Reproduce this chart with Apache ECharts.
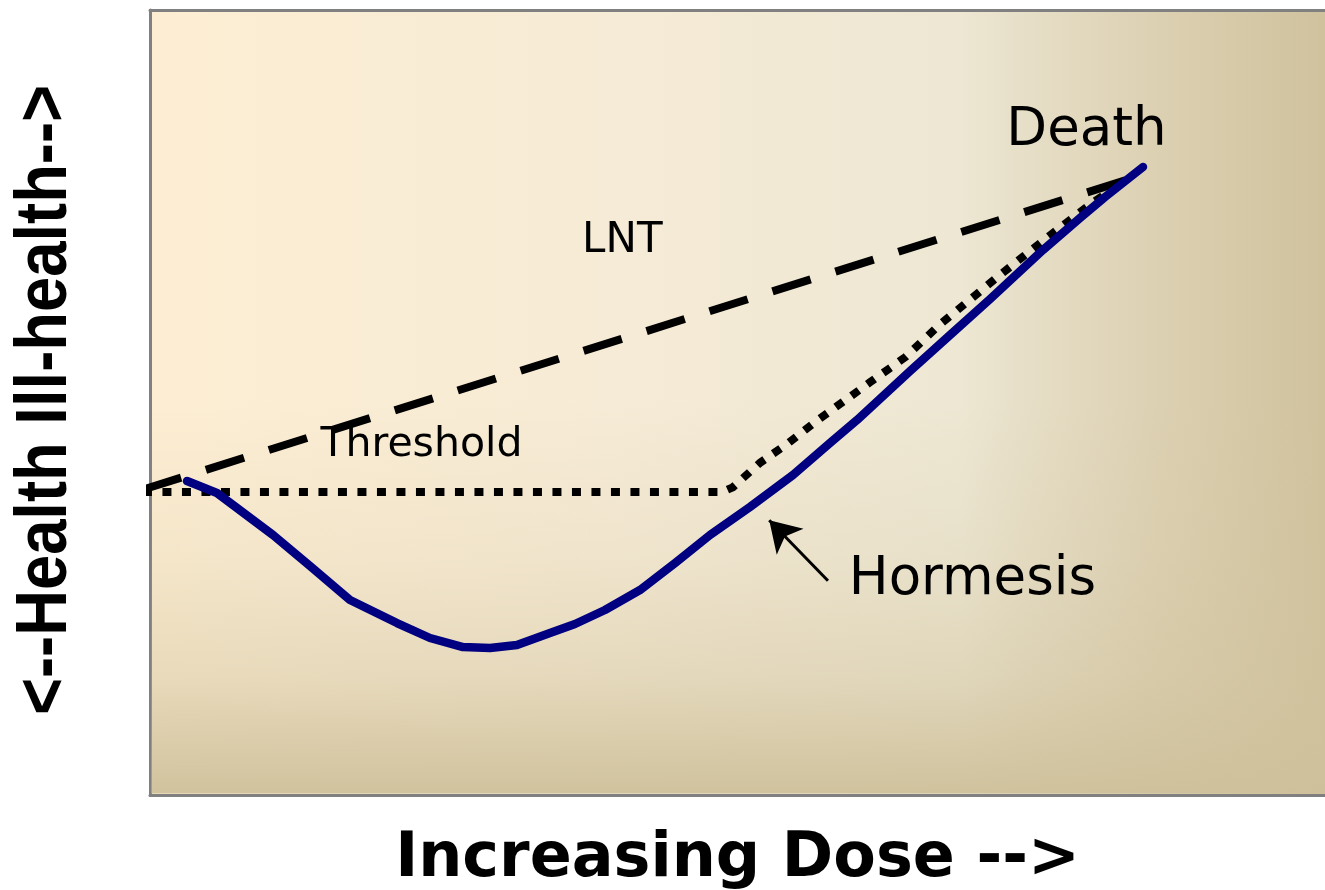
<!DOCTYPE html>
<html>
<head>
<meta charset="utf-8">
<title>Dose response models</title>
<script src="https://cdn.jsdelivr.net/npm/echarts@6/dist/echarts.min.js"></script>
<style>
  html, body { margin: 0; padding: 0; background: #ffffff; }
  #chart { width: 1325px; height: 890px; }
</style>
</head>
<body>
<div id="chart"></div>
<script>
// dose (x) and ill-health (y) on a 0-100 scale
const lntDose = [-0.6, 83.0];
const lntIll = [38.9, 78.3];

const thresholdDose = [-0.6, 48.7, 49.6, 51.9, 54.3, 56.6, 61.3, 64.3, 67.2, 72.3, 76.6, 80.0, 83.0];
const thresholdIll = [38.6, 38.6, 39.2, 42.3, 44.8, 47.5, 52.6, 55.8, 59.9, 66.2, 71.3, 75.2, 78.3];

const hormesisDose = [3.15, 5.70, 10.47, 13.62, 17.02, 21.02, 23.83, 26.64, 28.94, 31.23, 34.04, 36.17, 38.72,
  41.70, 44.68, 47.66, 51.06, 54.72, 57.87, 60.17, 64.68, 68.09, 71.49, 76.0, 79.15, 81.28, 84.51];
const hormesisIll = [40.0, 38.47, 33.12, 29.17, 24.84, 21.91, 20.0, 18.85, 18.73, 19.11, 20.64, 21.78, 23.57,
  26.11, 29.55, 33.12, 36.69, 40.76, 44.84, 47.77, 54.01, 58.60, 63.18, 69.43, 73.50, 76.18, 80.0];

// annotation texts and where they sit (data units)
const noteText = ['LNT', 'Threshold', 'Death', 'Hormesis'];
const noteDose = [40.2, 23.1, 79.7, 70.0];
const noteIll = [70.6, 44.5, 84.5, 27.3];

// arrow pointing at the hormesis curve: [tail, tip]
const arrowDose = [57.7, 52.7];
const arrowIll = [27.3, 35.0];

const yTitle = '<--Health Ill-health-->';
const xTitle = 'Increasing Dose -->';

const zip = (xs, ys) => xs.map((x, i) => [x, ys[i]]);

const GRID = { left: 150, top: 10, right: 0, bottom: 95 };
const W = 1325, H = 890;
const noteSize = { 'LNT': 42, 'Threshold': 41, 'Death': 53, 'Hormesis': 53 };

const chart = echarts.init(document.getElementById('chart'), null, { renderer: 'canvas' });

const option = {
  animation: false,
  backgroundColor: '#ffffff',
  grid: {
    left: GRID.left, top: GRID.top, right: GRID.right, bottom: GRID.bottom,
    outerBoundsMode: 'none',
    containLabel: false,
    show: true,
    borderWidth: 0,
    backgroundColor: {
      type: 'linear', x: 0, y: 0, x2: 1, y2: 0,
      colorStops: [
        { offset: 0, color: '#fdeed3' },
        { offset: 0.4, color: '#f6ebd6' },
        { offset: 0.69, color: '#ede7d3' },
        { offset: 0.74, color: '#e7dfc8' },
        { offset: 0.86, color: '#dcd0b2' },
        { offset: 1, color: '#d0c29d' }
      ]
    }
  },
  graphic: [{
    type: 'rect',
    z: 1,
    silent: true,
    shape: {
      x: GRID.left + 1.5, y: GRID.top + 1.5,
      width: W - GRID.left - GRID.right - 1.5,
      height: H - GRID.top - GRID.bottom - 3
    },
    style: {
      fill: {
        type: 'linear', x: 0, y: 0, x2: 0, y2: 1,
        colorStops: [
          { offset: 0, color: 'rgba(208,194,157,0)' },
          { offset: 0.5, color: 'rgba(208,194,157,0)' },
          { offset: 0.7, color: 'rgba(208,194,157,0.18)' },
          { offset: 0.85, color: 'rgba(208,194,157,0.45)' },
          { offset: 1, color: 'rgba(206,192,154,0.95)' }
        ]
      }
    }
  }, {
    // narrow bold axis title, squeezed along its reading direction
    type: 'text',
    z: 5,
    silent: true,
    x: 46,
    y: 400,
    rotation: Math.PI / 2,
    scaleX: 0.88,
    style: {
      text: yTitle,
      fontFamily: 'Liberation Sans',
      fontWeight: 'bold',
      fontSize: 72,
      fill: '#000',
      align: 'center',
      verticalAlign: 'middle'
    }
  }],
  xAxis: [{
    type: 'value', min: 0, max: 100,
    name: xTitle,
    nameLocation: 'middle',
    nameGap: 34,
    nameTextStyle: { fontFamily: 'DejaVu Sans', fontWeight: 'bold', fontSize: 62, color: '#000' },
    axisLine: { show: true, lineStyle: { color: '#808080', width: 3 } },
    axisTick: { show: false }, axisLabel: { show: false }, splitLine: { show: false }
  }, {
    type: 'value', min: 0, max: 100, position: 'top',
    axisLine: { show: true, lineStyle: { color: '#808080', width: 3 } },
    axisTick: { show: false }, axisLabel: { show: false }, splitLine: { show: false }
  }],
  yAxis: {
    type: 'value', min: 0, max: 100,
    axisLine: { show: true, lineStyle: { color: '#808080', width: 3 } },
    axisTick: { show: false }, axisLabel: { show: false }, splitLine: { show: false }
  },
  series: [
    {
      name: 'LNT', type: 'line', z: 3, clip: false,
      data: zip(lntDose, lntIll), showSymbol: false, symbol: 'none',
      lineStyle: { color: '#000', width: 8, type: [40, 26], cap: 'butt' }
    },
    {
      name: 'Threshold', type: 'line', z: 3, clip: false,
      data: zip(thresholdDose, thresholdIll), showSymbol: false, symbol: 'none',
      lineStyle: { color: '#000', width: 8, type: [9, 10.5], cap: 'butt', join: 'miter' }
    },
    {
      name: 'Hormesis', type: 'line', z: 4,
      data: zip(hormesisDose, hormesisIll), showSymbol: false, symbol: 'none',
      lineStyle: { color: '#000080', width: 8.5, cap: 'round', join: 'round' },
      markLine: {
        silent: true,
        symbol: ['none', 'arrow'],
        symbolSize: [28, 30],
        label: { show: false },
        lineStyle: { color: '#000', width: 3, type: 'solid' },
        data: [[{ coord: [arrowDose[0], arrowIll[0]] }, { coord: [arrowDose[1], arrowIll[1]] }]]
      }
    },
    {
      name: 'notes', type: 'scatter', z: 5,
      symbolSize: 0,
      itemStyle: { opacity: 1 },
      data: noteText.map((t, i) => ({
        name: t, value: [noteDose[i], noteIll[i]],
        label: { fontSize: noteSize[t] }
      })),
      label: {
        show: true, position: 'inside', formatter: '{b}',
        fontFamily: 'DejaVu Sans', color: '#000', opacity: 1
      }
    }
  ]
};

chart.setOption(option);
</script>
</body>
</html>
